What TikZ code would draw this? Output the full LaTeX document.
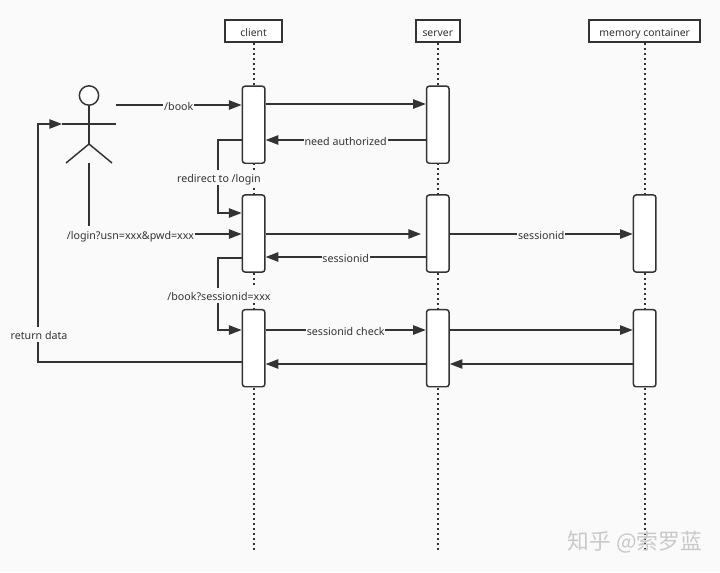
\documentclass[tikz,border=0pt]{standalone}
\usepackage{fontspec}
\setmainfont{Noto Sans}
\newfontfamily\cjk{Noto Sans CJK SC}
\usetikzlibrary{arrows.meta,positioning,calc}
\definecolor{cA}{HTML}{333333}
\definecolor{cB}{HTML}{fafafa}
\definecolor{cC}{HTML}{c9c9c9}
\tikzset{
  head/.style={draw=cA,line width=1.5pt,fill=white,minimum height=16.5pt,inner sep=0pt,text=cA,text height=7.5pt,text depth=0pt,font=\fontsize{7.8}{9}\selectfont},
  act/.style={draw=cA,line width=1.1pt,fill=white,rounded corners=2pt,minimum width=16.9pt,minimum height=57.8pt,inner sep=0pt},
  life/.style={cA,line width=1.5pt,dash pattern=on 1.5pt off 2.25pt},
  msg/.style={-{Triangle[length=9.5pt,width=7pt]},line width=1.1pt,cA},
  stick/.style={line width=1.1pt,cA},
  lab/.style={fill=cB,text=cA,inner sep=.6pt,text height=9pt,text depth=1.5pt,font=\fontsize{8}{9}\selectfont},
}
\begin{document}
\begin{tikzpicture}[x=0.75pt,y=-0.75pt]
  \useasboundingbox (0,0) rectangle (720,572);
  \fill[cB] (0,0) rectangle (720,572);
  % lifeline heads
  \node[head,minimum width=42.3pt] (client) at (253.6,31) {client};
  \node[head,minimum width=33.2pt] (server) at (437.8,31) {server};
  \node[head,minimum width=83pt] (memory) at (644.7,31) {memory container};
  \coordinate (clientEnd) at (253.6,552);
  \coordinate (serverEnd) at (437.8,552);
  \coordinate (memoryEnd) at (644.7,552);
  \draw[life] (client)--(clientEnd);
  \draw[life] (server)--(serverEnd);
  \draw[life] (memory)--(memoryEnd);
  % activation bars
  \node[act] (cliA) at (253.6,124.7) {};
  \node[act] (cliB) at (253.6,233.5) {};
  \node[act] (cliC) at (253.6,348.2) {};
  \node[act] (srvA) at (437.8,124.7) {};
  \node[act] (srvB) at (437.8,233.5) {};
  \node[act] (srvC) at (437.8,348.2) {};
  \node[act] (memB) at (644.7,233.5) {};
  \node[act] (memC) at (644.7,348.2) {};
  % stick figure
  \node[circle,draw=cA,line width=1.1pt,fill=white,minimum size=14.5pt,inner sep=0pt] (man) at (89,95.5) {};
  \coordinate (hip) at (89,144);
  \coordinate (handL) at (62,124);
  \coordinate (handR) at (116,124);
  \coordinate (footL) at (66,163);
  \coordinate (footR) at (112,163);
  \coordinate (book) at (116,105);
  \coordinate (below) at (89,163);
  \draw[stick] (man)--(hip);
  \draw[stick] (handL)--(handR);
  \draw[stick] (footL)--(hip)--(footR);
  % login request text, the stem drops onto it
  \node[lab] (login) at (130.5,234) {/login?usn=xxx\&pwd=xxx};
  \draw[stick] (below)--(login.north -| below);
  % first round
  \draw[msg] (book)--(cliA.west |- book) node[lab,midway] {/book};
  \draw[msg] (cliA.east |- 0,104)--(srvA.west |- 0,104);
  \draw[msg] (srvA.west |- 0,140)--(cliA.east |- 0,140) node[lab,midway] {need authorized};
  \draw[msg] (cliA.west |- 0,140)--(218,140)--(218,213)--(cliB.west |- 0,213);
  \node[lab] (redirect) at (219,177.5) {redirect to /login};
  % second round
  \draw[msg] (login)--(cliB.west |- login);
  \draw[msg] (cliB.east |- 0,234)--(421,234);
  \draw[msg] (srvB.east |- 0,234)--(memB.west |- 0,234) node[lab,midway] {sessionid};
  \draw[msg] (srvB.west |- 0,257)--(cliB.east |- 0,257) node[lab,midway] {sessionid};
  \draw[msg] (cliB.west |- 0,258)--(218,258)--(218,330)--(cliC.west |- 0,330);
  \node[lab] (again) at (219,295.5) {/book?sessionid=xxx};
  % third round
  \draw[msg] (cliC.east |- 0,330)--(srvC.west |- 0,330) node[lab,midway] {sessionid check};
  \draw[msg] (srvC.east |- 0,330)--(memC.west |- 0,330);
  \draw[msg] (memC.west |- 0,364)--(srvC.east |- 0,364);
  \draw[msg] (srvC.west |- 0,364)--(cliC.east |- 0,364);
  \draw[msg] (cliC.west |- 0,362)--(38,362)--(38,124)--(handL);
  \node[lab] (back) at (39,334.5) {return data};
  \node[text=cC,font=\cjk\fontsize{16.3}{18}\selectfont,inner sep=0pt] (mark) at (635,542) {知乎 @索罗蓝};
\end{tikzpicture}
\end{document}
